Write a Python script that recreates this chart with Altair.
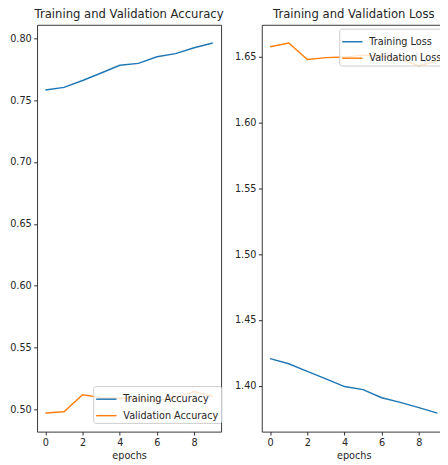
import altair as alt
import pandas as pd

epochs = list(range(10))
train_acc = [0.7583, 0.7604, 0.7660, 0.7720, 0.7783, 0.7798, 0.7852, 0.7877, 0.7925, 0.7963]
val_acc = [0.4970, 0.4980, 0.5118, 0.5095, 0.5090, 0.5085, 0.5070, 0.5095, 0.5145, 0.5105]
train_loss = [1.4207, 1.4168, 1.4110, 1.4053, 1.3995, 1.3972, 1.3910, 1.3875, 1.3835, 1.3793]
val_loss = [1.6574, 1.6602, 1.6477, 1.6491, 1.6495, 1.6510, 1.6502, 1.6478, 1.6430, 1.6465]

acc_ticks = [0.50, 0.55, 0.60, 0.65, 0.70, 0.75, 0.80]
loss_ticks = [1.40, 1.45, 1.50, 1.55, 1.60, 1.65]
x_ticks = [0, 2, 4, 6, 8]

acc_df = pd.DataFrame({
    "epoch": epochs + epochs,
    "value": train_acc + val_acc,
    "series": ["Training Accuracy"] * 10 + ["Validation Accuracy"] * 10,
})
loss_df = pd.DataFrame({
    "epoch": epochs + epochs,
    "value": train_loss + val_loss,
    "series": ["Training Loss"] * 10 + ["Validation Loss"] * 10,
})

BLUE = "#1f77b4"
ORANGE = "#ff7f0e"
TXT = "#262626"


def panel(df, title, names, ydomain, yticks, lx, ly):
    x = alt.X(
        "epoch:Q",
        scale=alt.Scale(domain=[-0.45, 9.45], nice=False, zero=False),
        axis=alt.Axis(values=x_ticks, title="epochs", grid=False, domain=False,
                      tickSize=3.5, tickColor=TXT, labelPadding=3, labelFontSize=10,
                      labelColor=TXT, titleFontSize=10, titleFontWeight="normal",
                      titleColor=TXT, titlePadding=3, format="d"),
    )
    y = alt.Y(
        "value:Q",
        scale=alt.Scale(domain=ydomain, nice=False, zero=False),
        axis=alt.Axis(values=yticks, title=None, grid=False, domain=False,
                      tickSize=3.5, tickColor=TXT, labelPadding=2.5, labelFontSize=10,
                      labelColor=TXT, format=".2f", minExtent=28, maxExtent=28),
    )
    color = alt.Color(
        "series:N",
        scale=alt.Scale(domain=names, range=[BLUE, ORANGE]),
        legend=alt.Legend(orient="none", legendX=lx, legendY=ly, title=None,
                          symbolType="stroke", symbolSize=441, symbolStrokeWidth=1.5,
                          labelFontSize=10, labelColor=TXT,
                          fillColor="rgba(255,255,255,0.8)", strokeColor="#cccccc",
                          cornerRadius=2, padding=2, rowPadding=-5, labelOffset=6),
    )
    return alt.Chart(df).mark_line(strokeWidth=1.5).encode(
        x=x, y=y, color=color, order="epoch:Q"
    ).properties(
        width=190, height=420,
        title=alt.TitleParams(title, fontSize=12, fontWeight="normal", color=TXT,
                              offset=4, anchor="middle"),
    )


left = panel(acc_df, "Training and Validation Accuracy",
             ["Training Accuracy", "Validation Accuracy"], [0.482, 0.811], acc_ticks,
             58, 373)
right = panel(loss_df, "Training and Validation Loss",
              ["Training Loss", "Validation Loss"], [1.3653, 1.674], loss_ticks,
              80, 4)

chart = alt.hconcat(left, right, spacing=9).resolve_scale(
    color="independent", y="independent"
).properties(
    padding={"left": 1, "top": -8, "right": -7, "bottom": -6}
).configure(font="DejaVu Sans").configure_view(stroke="#333333", strokeWidth=1)

chart.save("out.html", embed_options={"renderer": "svg", "actions": False})
